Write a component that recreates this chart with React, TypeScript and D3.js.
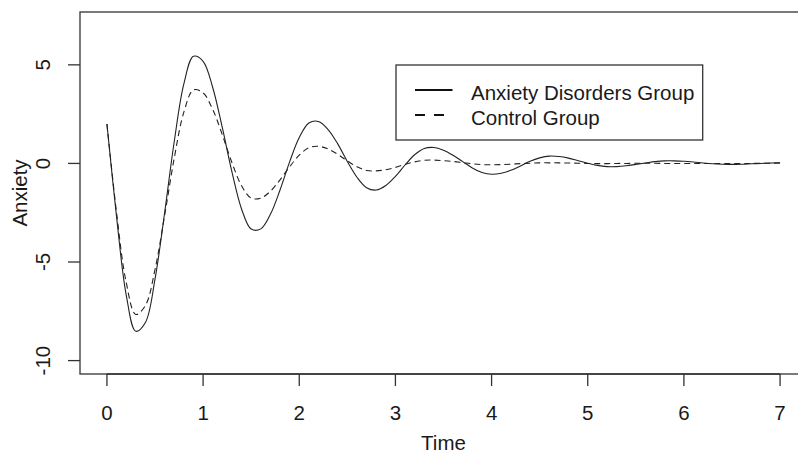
import React, { useEffect, useRef } from "react";
import * as d3 from "d3";

// time grid (step 0.1)
const times = [
  0, 0.1, 0.2, 0.3, 0.4, 0.5, 0.6, 0.7, 0.8, 0.9,
  1.0, 1.1, 1.2, 1.3, 1.4, 1.5, 1.6, 1.7, 1.8, 1.9,
  2.0, 2.1, 2.2, 2.3, 2.4, 2.5, 2.6, 2.7, 2.8, 2.9,
  3.0, 3.1, 3.2, 3.3, 3.4, 3.5, 3.6, 3.7, 3.8, 3.9,
  4.0, 4.1, 4.2, 4.3, 4.4, 4.5, 4.6, 4.7, 4.8, 4.9,
  5.0, 5.1, 5.2, 5.3, 5.4, 5.5, 5.6, 5.7, 5.8, 5.9,
  6.0, 6.1, 6.2, 6.3, 6.4, 6.5, 6.6, 6.7, 6.8, 6.9,
  7.0,
];

// Anxiety Disorders Group (solid)
const anxietyGroup = [
  2.0, -2.7, -6.65, -8.51, -8.07, -5.87, -2.5, 1.11, 4.03, 5.43,
  5.18, 3.85, 1.81, -0.43, -2.31, -3.33, -3.32, -2.58, -1.35, 0.08,
  1.31, 2.05, 2.13, 1.72, 0.99, 0.1, -0.7, -1.23, -1.35, -1.12,
  -0.66, -0.08, 0.44, 0.76, 0.81, 0.67, 0.41, 0.09, -0.23, -0.46,
  -0.55, -0.5, -0.35, -0.13, 0.11, 0.28, 0.37, 0.35, 0.27, 0.14,
  0.01, -0.1, -0.16, -0.16, -0.12, -0.05, 0.02, 0.09, 0.13, 0.13,
  0.11, 0.07, 0.02, -0.02, -0.04, -0.05, -0.04, -0.02, 0.0, 0.02,
  0.03,
];

// Control Group (dashed)
const controlGroup = [
  2.0, -2.49, -6.02, -7.66, -7.21, -5.38, -2.64, 0.27, 2.6, 3.73,
  3.58, 2.74, 1.45, 0.04, -1.13, -1.76, -1.76, -1.41, -0.83, -0.17,
  0.42, 0.8, 0.87, 0.73, 0.46, 0.13, -0.17, -0.36, -0.38, -0.32,
  -0.2, -0.05, 0.08, 0.16, 0.17, 0.14, 0.1, 0.04, -0.02, -0.06,
  -0.07, -0.06, -0.04, -0.01, 0.01, 0.03, 0.03, 0.03, 0.02, 0.01,
  0.0, -0.01, -0.01, 0.0, 0.0, 0.01, 0.01, 0.01, 0.0, 0.0,
  0.0, 0.0, 0.0, 0.0, 0.0, 0.0, 0.0, 0.0, 0.01, 0.01,
  0.02,
];

const xTicks = [0, 1, 2, 3, 4, 5, 6, 7];
const yTicks = [-10, -5, 0, 5];
const legendLabels = ["Anxiety Disorders Group", "Control Group"];

const W = 798;
const H = 454;
const FONT = "'Liberation Sans', Arial, Helvetica, sans-serif";
const INK = "#1a1a1a";

export default function App() {
  const ref = useRef<SVGSVGElement>(null);

  useEffect(() => {
    // plot region (R base graphics, right edge runs past the picture)
    const margin = { left: 80, top: 12, right: 807, bottom: 374 };

    // R pads the limits by 4%
    const xs = d3.scaleLinear().domain([-0.28, 7.28]).range([margin.left, margin.right]);
    const ys = d3.scaleLinear().domain([-10.68, 7.68]).range([margin.bottom, margin.top]);

    const svg = d3.select(ref.current);
    svg.selectAll("*").remove();
    const g = svg.append("g");

    // box
    g.append("rect")
      .attr("x", margin.left)
      .attr("y", margin.top)
      .attr("width", margin.right - margin.left)
      .attr("height", margin.bottom - margin.top)
      .attr("fill", "none")
      .attr("stroke", "#333")
      .attr("stroke-width", 1.3);

    // x axis
    const tickLen = 12;
    g.append("line")
      .attr("x1", xs(xTicks[0])).attr("x2", xs(xTicks[xTicks.length - 1]))
      .attr("y1", margin.bottom).attr("y2", margin.bottom)
      .attr("stroke", "#333").attr("stroke-width", 1.3);
    g.selectAll(".xtick")
      .data(xTicks)
      .join("line")
      .attr("class", "xtick")
      .attr("x1", (d) => xs(d)).attr("x2", (d) => xs(d))
      .attr("y1", margin.bottom).attr("y2", margin.bottom + tickLen)
      .attr("stroke", "#333").attr("stroke-width", 1.3);
    g.selectAll(".xlab")
      .data(xTicks)
      .join("text")
      .attr("class", "xlab")
      .attr("x", (d) => xs(d))
      .attr("y", 420)
      .attr("text-anchor", "middle")
      .attr("font-family", FONT)
      .attr("font-size", 20.5)
      .attr("fill", INK)
      .text((d) => String(d));

    // y axis
    g.selectAll(".ytick")
      .data(yTicks)
      .join("line")
      .attr("class", "ytick")
      .attr("x1", margin.left - tickLen).attr("x2", margin.left)
      .attr("y1", (d) => ys(d)).attr("y2", (d) => ys(d))
      .attr("stroke", "#333").attr("stroke-width", 1.3);
    g.selectAll(".ylab")
      .data(yTicks)
      .join("text")
      .attr("class", "ylab")
      .attr("transform", (d) => `translate(50,${ys(d)}) rotate(-90)`)
      .attr("text-anchor", "middle")
      .attr("font-family", FONT)
      .attr("font-size", 20.5)
      .attr("fill", INK)
      .text((d) => String(d));

    // axis titles
    g.append("text")
      .attr("x", (margin.left + margin.right) / 2)
      .attr("y", 450)
      .attr("text-anchor", "middle")
      .attr("font-family", FONT)
      .attr("font-size", 20.5)
      .attr("fill", INK)
      .text("Time");
    g.append("text")
      .attr("transform", `translate(26.7,${(margin.top + margin.bottom) / 2}) rotate(-90)`)
      .attr("text-anchor", "middle")
      .attr("font-family", FONT)
      .attr("font-size", 20.5)
      .attr("fill", INK)
      .text("Anxiety");

    // curves
    const line = d3
      .line<number>()
      .x((d, i) => xs(times[i]))
      .y((d) => ys(d))
      .curve(d3.curveCatmullRom.alpha(0.5));

    g.append("path")
      .attr("d", line(controlGroup))
      .attr("fill", "none")
      .attr("stroke", "#222")
      .attr("stroke-width", 1.1)
      .attr("stroke-dasharray", "6,4");
    g.append("path")
      .attr("d", line(anxietyGroup))
      .attr("fill", "none")
      .attr("stroke", "#222")
      .attr("stroke-width", 1.1);

    // legend
    const lg = g.append("g");
    lg.append("rect")
      .attr("x", 396).attr("y", 65)
      .attr("width", 306.7).attr("height", 75)
      .attr("fill", "white")
      .attr("stroke", "#333")
      .attr("stroke-width", 1.3);
    const rows = [90, 115];
    const dashes = [null, "10,9"];
    legendLabels.forEach((label, i) => {
      lg.append("line")
        .attr("x1", 415).attr("x2", 452.5)
        .attr("y1", rows[i]).attr("y2", rows[i])
        .attr("stroke", "#111")
        .attr("stroke-width", 2)
        .attr("stroke-dasharray", dashes[i]);
      lg.append("text")
        .attr("x", 471)
        .attr("y", rows[i] + 9.5)
        .attr("font-family", FONT)
        .attr("font-size", 20.5)
        .attr("fill", INK)
        .text(label);
    });
  }, []);

  return (
    <svg
      ref={ref}
      width={W}
      height={H}
      style={{ position: "absolute", left: 0, top: 0, background: "white", overflow: "hidden" }}
    />
  );
}
